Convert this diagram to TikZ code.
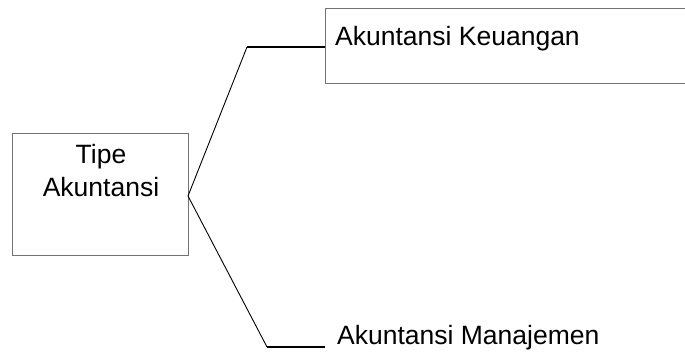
\documentclass[tikz,border=0pt]{standalone}
\usepackage{fontspec}
\setmainfont{Liberation Sans}
\begin{document}
\begin{tikzpicture}[x=1pt,y=-1pt,
  boxstyle/.style={draw=black!55, line width=0.9pt, fill=white, inner sep=0pt},
  lbl/.style={font=\fontsize{26.5}{33}\selectfont, inner sep=0pt, align=center},
  conn/.style={draw=black, line width=0.9pt},
  connh/.style={draw=black, line width=1.8pt}]
\useasboundingbox (0,0) rectangle (685,351);
\clip (0,0) rectangle (685,351);
% boxes
\node[boxstyle, minimum width=176pt, minimum height=122pt] (tipe) at (100,194) {};
\node[lbl, anchor=base] (tipetxt) at (101,196) {Tipe\\Akuntansi};
\node[boxstyle, anchor=north west, minimum width=380pt, minimum height=75pt] (keu) at (325,8) {};
\node[lbl, anchor=base west] (keutxt) at (335,45) {Akuntansi Keuangan};
\node[lbl, anchor=base west] (man) at (337,344) {Akuntansi Manajemen};
% connectors
\coordinate (root) at (188,196);
\coordinate (kbend) at (247,47);
\coordinate (kin) at (325,47);
\coordinate (mbend) at (267,347);
\coordinate (min) at (325,347);
\draw[conn] (root) -- (kbend);
\draw[connh] (kbend) -- (kin);
\draw[conn] (root) -- (mbend);
\draw[connh] (mbend) -- (min);
\end{tikzpicture}
\end{document}
